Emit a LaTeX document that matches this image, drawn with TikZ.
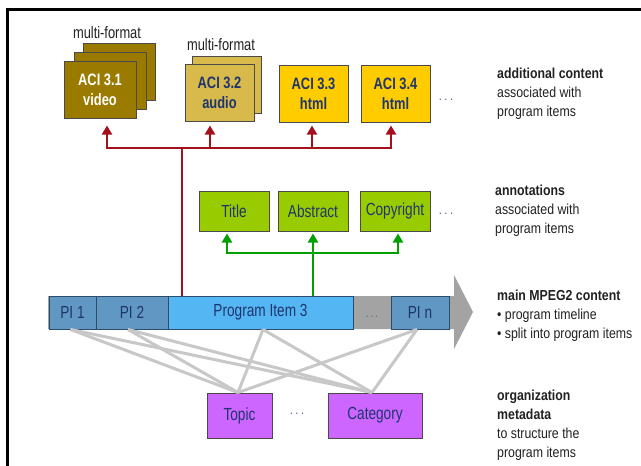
\documentclass[tikz,border=0pt]{standalone}
\usepackage{fontspec}
\setmainfont{Liberation Sans}[FakeStretch=0.85]
\newfontfamily\boxfont{Liberation Sans}[FakeStretch=0.78]
\usetikzlibrary{arrows.meta}
\definecolor{aciA}{HTML}{9A7B00}
\definecolor{aciB}{HTML}{D8BA4C}
\definecolor{aciC}{HTML}{FFCC00}
\definecolor{annot}{HTML}{99CC00}
\definecolor{orgc}{HTML}{CC66FF}
\definecolor{pidark}{HTML}{6197C3}
\definecolor{pilight}{HTML}{55B6F4}
\definecolor{tlgray}{HTML}{A3A3A3}
\definecolor{linkgray}{HTML}{C8C8C8}
\definecolor{redline}{HTML}{A3121C}
\definecolor{greenline}{HTML}{00A000}
\definecolor{navy}{HTML}{1F356E}
\definecolor{edgec}{HTML}{4A4A4A}
\definecolor{tledge}{HTML}{2D4B6B}
\definecolor{lbltext}{HTML}{222222}
\newcommand{\spdots}{.\hspace{2.5pt}.\hspace{2.5pt}.}
\begin{document}
\begin{tikzpicture}[x=1pt,y=-1pt,
  boxbase/.style={draw=edgec, line width=1pt, inner sep=0pt, align=center, text=navy},
  aci/.style={boxbase, minimum width=69pt, minimum height=57pt, font=\boxfont\fontsize{16.5}{20}\selectfont\bfseries},
  ann/.style={boxbase, fill=annot, minimum width=70pt, minimum height=40pt, font=\boxfont\fontsize{17.5}{20}\selectfont},
  orgbox/.style={boxbase, fill=orgc, minimum height=45pt, font=\boxfont\fontsize{17.5}{20}\selectfont},
  tlbox/.style={draw=tledge, line width=1pt, inner sep=0pt, text=navy, minimum height=33pt, font=\boxfont\fontsize{17.5}{20}\selectfont},
  lbl/.style={anchor=north west, align=left, inner sep=0pt, text=lbltext, font=\fontsize{14.5}{18.8}\selectfont},
  mf/.style={inner sep=0pt, text=lbltext, font=\boxfont\fontsize{16.5}{18}\selectfont},
  dotsnode/.style={inner sep=0pt, text=navy!80, font=\fontsize{13}{15}\selectfont},
  redarrow/.style={draw=redline, line width=2.6pt, -{Triangle[width=10pt,length=9pt]}},
  greenarrow/.style={draw=greenline, line width=2.6pt, -{Triangle[width=10pt,length=9pt]}},
  link/.style={draw=linkgray, line width=3pt}
]
\useasboundingbox (0,0) rectangle (641,466);
\fill[white] (0,0) rectangle (641,466);
\draw[line width=3pt] (7,466) -- (7,9) -- (641,9);

% ACI boxes
\node[aci, minimum width=72pt, fill=aciA] (a31c) at (119,71.5) {};
\node[aci, minimum width=72pt, fill=aciA] (a31b) at (110,80.5) {};
\node[aci, minimum width=72pt, fill=aciA, text=white] (a31) at (100,89.5) {ACI 3.1\\video};
\node[aci, fill=aciB] (a32b) at (227,84.5) {};
\node[aci, fill=aciB] (a32) at (219.5,92.5) {ACI 3.2\\audio};
\node[aci, fill=aciC] (a33) at (313.5,93.5) {ACI 3.3\\html};
\node[aci, fill=aciC] (a34) at (395.5,93.5) {ACI 3.4\\html};
\node[mf] (mf1) at (107,33) {multi-format};
\node[mf] (mf2) at (221,45) {multi-format};
\node[dotsnode] (d1) at (446,100) {\spdots};

% annotations
\node[ann] (title) at (234,211) {Title};
\node[ann] (abs) at (313,211) {Abstract};
\node[ann] (copy) at (395,211) {Copyright};
\node[dotsnode] (d2) at (446,214) {\spdots};

% timeline
\fill[tlgray] (48,296) -- (454,296) -- (454,275) -- (473,312) -- (454,349) -- (454,329) -- (48,329) -- cycle;
\node[tlbox, fill=pidark, minimum width=47pt] (pi1) at (72.5,312.5) {PI 1};
\node[tlbox, fill=pidark, minimum width=72pt] (pi2) at (132,312.5) {PI 2};
\node[tlbox, fill=pilight, minimum width=185pt] (pi3) at (260.5,312.5) {Program Item 3};
\node[tlbox, fill=pidark, minimum width=58pt] (pin) at (420,312.5) {PI n};
\node[dotsnode, text=navy!75, font=\fontsize{12}{13}\selectfont] (d3) at (372,317) {.\hspace{1.8pt}.\hspace{1.8pt}.};

% organization
\node[orgbox, minimum width=65pt] (topic) at (239.5,415.5) {Topic};
\node[orgbox, minimum width=94pt] (cat) at (375,415.5) {Category};
\node[dotsnode] (d4) at (297,414) {\spdots};

% links
\foreach \s/\dx in {pi1/-2, pi2/-4, pi3/2.5, pin/-3} {
  \draw[link] ([xshift=\dx pt]\s.south) -- ([xshift=-1.5pt]topic.north);
  \draw[link] ([xshift=\dx pt]\s.south) -- ([xshift=-3pt]cat.north);
}

% red connectors
\coordinate (rj) at (182,148);
\draw[draw=redline, line width=2.6pt] (pi3.north -| rj) -- (rj);
\draw[redarrow, shorten >=7pt] (rj) -| ([xshift=7pt]a31.south);
\draw[redarrow, shorten >=4pt] (rj) -| ([xshift=-9.5pt]a32.south);
\draw[redarrow, shorten >=3pt] (rj) -| ([xshift=-1.5pt]a33.south);
\draw[redarrow, shorten >=3pt] (rj) -| ([xshift=-4.5pt]a34.south);

% green connectors
\coordinate (gj) at (313,253);
\draw[greenarrow, shorten >=2pt] (pi3.north -| abs.south) -- (abs.south);
\draw[greenarrow, shorten >=2pt] (gj) -| ([xshift=-7pt]title.south);
\draw[greenarrow, shorten >=2pt] (gj) -| ([xshift=3pt]copy.south);

% right labels
\node[lbl] (l1) at (497,68) {\textbf{additional content}\\associated with\\program items};
\node[lbl] (l2) at (495,185) {\textbf{annotations}\\associated with\\program items};
\node[lbl] (l3) at (497,290) {\textbf{main MPEG2 content}\\• program timeline\\• split into program items};
\node[lbl] (l4) at (497,390) {\textbf{organization}\\\textbf{metadata}\\to structure the\\program items};
\end{tikzpicture}
\end{document}
